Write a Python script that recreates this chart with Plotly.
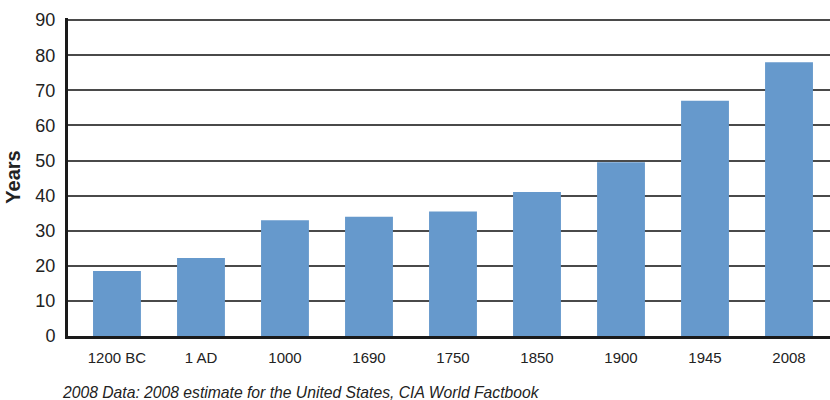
import plotly.graph_objects as go

periods = ["1200 BC", "1 AD", "1000", "1690", "1750", "1850", "1900", "1945", "2008"]
life_expectancy = [18.5, 22.2, 33, 34, 35.5, 41, 49.5, 67, 78]
y_ticks = [0, 10, 20, 30, 40, 50, 60, 70, 80, 90]
caption = "2008 Data: 2008 estimate for the United States, CIA World Factbook"

fig = go.Figure()
fig.add_trace(go.Bar(
    x=periods, y=life_expectancy,
    marker=dict(color="#6699CC", line=dict(width=0)),
    width=0.57,
))

fig.update_layout(
    width=830, height=400,
    margin=dict(l=68, r=0, t=18, b=64),
    paper_bgcolor="white", plot_bgcolor="white",
    font=dict(family="Liberation Sans, Arial, sans-serif", color="#222222"),
    showlegend=False,
    bargap=0.43,
)
fig.update_xaxes(
    type="category", range=[-0.583, 8.488],
    showline=True, linecolor="#1a1a1a", linewidth=3,
    showgrid=False, ticks="outside", ticklen=6, tickcolor="rgba(0,0,0,0)",
    tickfont=dict(size=15, color="#222222"),
)
fig.update_yaxes(
    range=[0, 90.6], tickvals=y_ticks,
    showline=True, linecolor="#1a1a1a", linewidth=3,
    showgrid=True, gridcolor="#4a4a4a", gridwidth=1.5,
    zeroline=False, ticks="outside", ticklen=6, tickcolor="rgba(0,0,0,0)",
    tickfont=dict(size=18, color="#222222"),
    title=dict(text="<b>Years</b>", font=dict(size=20, color="#222222"), standoff=10),
)
fig.add_annotation(
    text="<i>" + caption + "</i>", xref="paper", yref="paper",
    x=-0.011, y=-0.179, xanchor="left", yanchor="middle", showarrow=False,
    font=dict(size=15.7, color="#222222"),
)
fig.write_html("out.html")
